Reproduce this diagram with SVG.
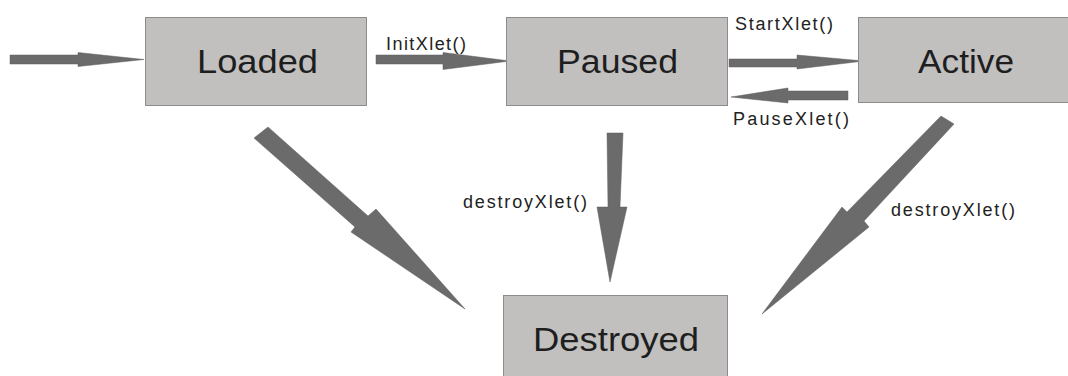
<svg xmlns="http://www.w3.org/2000/svg" width="1068" height="376" viewBox="0 0 1068 376">
<style>
.box{fill:#c1c0bf;stroke:#8c8c8c;stroke-width:1}
.big{font-family:"Liberation Sans",Arial,sans-serif;font-size:34px;fill:#1e1e1e}
.lbl{font-family:"Liberation Sans",Arial,sans-serif;font-size:18px;fill:#222222}
.arr{fill:#6b6b6b;stroke:#5e5e5e;stroke-width:0.5}
</style>
<rect width="1068" height="376" fill="#ffffff"/>
<g id="connectors">
<polygon class="arr" points="10,55 78,55 78,52.5 144,59.5 78,66.5 78,64 10,64"/>
<polygon class="arr" points="376,55 443,55 443,52.5 510,61 443,69.5 443,64 376,64"/>
<polygon class="arr" points="729,59 797,59 797,55 864,61 797,69 797,67 729,67"/>
<polygon class="arr" points="848,91 788,91 788,88 731,97 788,103 788,100 848,100"/>
<polygon class="arr" points="607,133 623,133 620,207 627,207 610,282 597,207 608,207"/>
<polygon class="arr" points="268,127 368,216 376,209 465,309 351,232 355,227 254,138"/>
<polygon class="arr" points="941,116 954,124 864,221 869,227 762,314 842,207 847,212"/>
<text class="lbl" x="386" y="50" textLength="80" lengthAdjust="spacing">InitXlet()</text>
<text class="lbl" x="735" y="30" textLength="98" lengthAdjust="spacing">StartXlet()</text>
<text class="lbl" x="733" y="125" textLength="116" lengthAdjust="spacing">PauseXlet()</text>
<text class="lbl" x="463" y="208" textLength="124" lengthAdjust="spacing">destroyXlet()</text>
<text class="lbl" x="891" y="216" textLength="124" lengthAdjust="spacing">destroyXlet()</text>
</g>
<g id="loaded">
<rect class="box" x="145.5" y="17.5" width="221" height="88"/>
<text class="big" x="197" y="73" textLength="121" lengthAdjust="spacingAndGlyphs">Loaded</text>
</g>
<g id="paused">
<rect class="box" x="506.5" y="17.5" width="221" height="88"/>
<text class="big" x="557" y="73" textLength="121" lengthAdjust="spacingAndGlyphs">Paused</text>
</g>
<g id="active">
<rect class="box" x="858.5" y="17.5" width="212" height="85"/>
<text class="big" x="918" y="73" textLength="96" lengthAdjust="spacingAndGlyphs">Active</text>
</g>
<g id="destroyed">
<rect class="box" x="503.5" y="295.5" width="224" height="90"/>
<text class="big" x="533" y="351" textLength="166" lengthAdjust="spacingAndGlyphs">Destroyed</text>
</g>
</svg>
